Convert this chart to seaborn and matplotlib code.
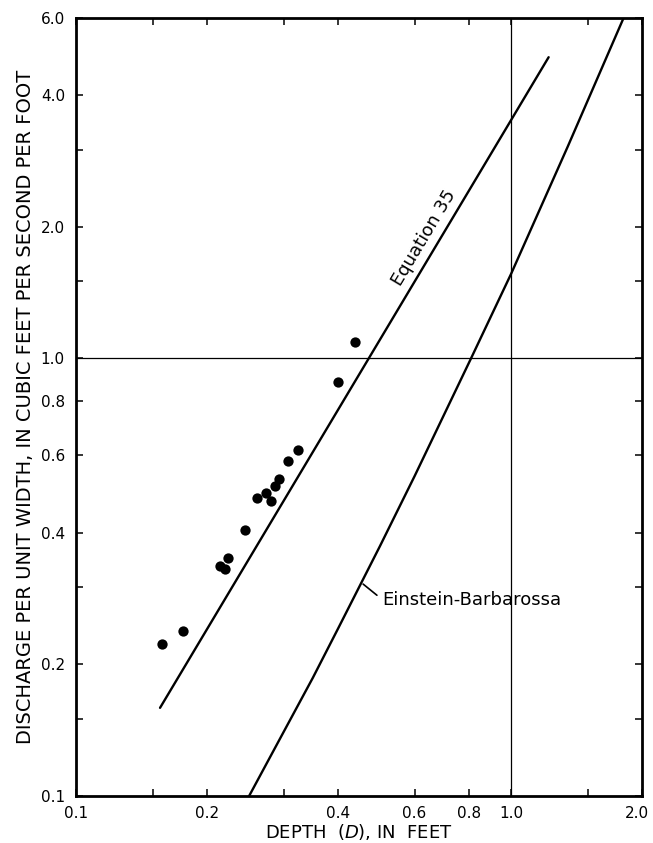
import numpy as np
import pandas as pd
import matplotlib
matplotlib.use("Agg")
import matplotlib.pyplot as plt
import matplotlib.transforms as mtransforms
import seaborn as sns
from matplotlib.ticker import FixedLocator, FixedFormatter

# Observed depth and discharge per unit width
depth_ft = [0.158, 0.176, 0.214, 0.220, 0.224, 0.244, 0.260, 0.274, 0.280,
            0.286, 0.293, 0.307, 0.324, 0.400, 0.437]
discharge_cfs_ft = [0.222, 0.238, 0.335, 0.331, 0.350, 0.406, 0.480, 0.492, 0.472,
                    0.510, 0.531, 0.584, 0.619, 0.885, 1.09]

# Equation 35 (a straight line on log-log paper)
eq35_depth = [0.156, 1.22]
eq35_discharge = [0.159, 4.88]

# Einstein-Barbarossa relation
eb_depth = [0.250, 0.300, 0.350, 0.400, 0.500, 0.600, 0.809, 1.000, 1.350, 1.814]
eb_discharge = [0.100, 0.140, 0.186, 0.241, 0.373, 0.538, 1.000, 1.560, 3.05, 6.00]

# Axis ticks
x_major = [0.1, 0.2, 0.4, 0.6, 0.8, 1.0, 2.0]
x_labels = ["0.1", "0.2", "0.4", "0.6", "0.8", "1.0", "2.0"]
x_minor = [0.15, 0.3, 1.5]
y_major = [0.1, 0.2, 0.4, 0.6, 0.8, 1.0, 2.0, 4.0, 6.0]
y_labels = ["0.1", "0.2", "0.4", "0.6", "0.8", "1.0", "2.0", "4.0", "6.0"]
y_minor = [0.15, 0.3, 1.5, 3.0]

sns.set_theme(style="ticks")
plt.rcParams["font.family"] = ["DejaVu Sans"]
plt.rcParams["mathtext.fontset"] = "dejavusans"

fig = plt.figure(figsize=(6.53, 8.43), dpi=100)
ax = fig.add_axes([0.1164, 0.0558, 0.8668, 0.9229])
ax.set_xscale("log")
ax.set_yscale("log")
ax.set_xlim(0.1, 2.0)
ax.set_ylim(0.1, 6.0)

# Reference lines at 1.0
ax.axvline(1.0, color="black", lw=0.9, zorder=1)
ax.axhline(1.0, color="black", lw=0.9, zorder=1)

obs = pd.DataFrame({"depth": depth_ft, "q": discharge_cfs_ft})
eq35 = pd.DataFrame({"depth": eq35_depth, "q": eq35_discharge})
eb = pd.DataFrame({"depth": eb_depth, "q": eb_discharge})

sns.lineplot(data=eq35, x="depth", y="q", ax=ax, color="black", lw=1.7,
             sort=False, estimator=None, zorder=2)
sns.lineplot(data=eb, x="depth", y="q", ax=ax, color="black", lw=1.7,
             sort=False, estimator=None, zorder=2)
sns.scatterplot(data=obs, x="depth", y="q", ax=ax, color="black", s=55,
                linewidth=0, zorder=3)

# Ticks
ax.xaxis.set_major_locator(FixedLocator(x_major))
ax.xaxis.set_major_formatter(FixedFormatter(x_labels))
ax.xaxis.set_minor_locator(FixedLocator(x_minor))
ax.yaxis.set_major_locator(FixedLocator(y_major))
ax.yaxis.set_major_formatter(FixedFormatter(y_labels))
ax.yaxis.set_minor_locator(FixedLocator(y_minor))
ax.tick_params(which="both", direction="in", top=True, right=True,
               length=5, width=1.1, color="black", labelsize=11,
               labelcolor="black")
ax.tick_params(axis="x", which="major", pad=7)
ax.tick_params(axis="y", which="major", pad=8)
ax.xaxis.set_minor_formatter(FixedFormatter([""] * len(x_minor)))
ax.yaxis.set_minor_formatter(FixedFormatter([""] * len(y_minor)))

for sp in ax.spines.values():
    sp.set_linewidth(2.0)
    sp.set_color("black")

ax.set_xlabel(r"DEPTH  ($\mathit{D}$), IN  FEET", fontsize=13, labelpad=1,
              color="black")
ax.set_ylabel("DISCHARGE PER UNIT WIDTH, IN CUBIC FEET PER SECOND PER FOOT",
              fontsize=14, labelpad=4, color="black")

fig.canvas.draw()

# Keep the last depth label inside the figure
last = ax.get_xticklabels()[-1]
last.set_transform(last.get_transform() +
                   mtransforms.ScaledTranslation(-4 / 72, 0, fig.dpi_scale_trans))

# Label running along the Equation 35 line
p0 = ax.transData.transform((eq35_depth[0], eq35_discharge[0]))
p1 = ax.transData.transform((eq35_depth[1], eq35_discharge[1]))
ang = np.degrees(np.arctan2(p1[1] - p0[1], p1[0] - p0[0]))
anchor_y = 1.42
slope = np.log10(eq35_discharge[1] / eq35_discharge[0]) / np.log10(eq35_depth[1] / eq35_depth[0])
anchor_x = eq35_depth[0] * (anchor_y / eq35_discharge[0]) ** (1.0 / slope)
nrm = np.array([-np.sin(np.radians(ang)), np.cos(np.radians(ang))]) * 4
ax.annotate("Equation 35", xy=(anchor_x, anchor_y), xytext=tuple(nrm),
            textcoords="offset points", rotation=ang, rotation_mode="anchor",
            ha="left", va="bottom", fontsize=13, color="black")

# Label with leader for the Einstein-Barbarossa curve
ax.annotate("Einstein-Barbarossa", xy=(0.457, 0.305), xytext=(0.506, 0.281),
            ha="left", va="center", fontsize=13, color="black",
            arrowprops=dict(arrowstyle="-", color="black", lw=1.2,
                            relpos=(0.0, 0.5), shrinkA=2, shrinkB=0))

fig.savefig("out.png", dpi=100, facecolor="white")
